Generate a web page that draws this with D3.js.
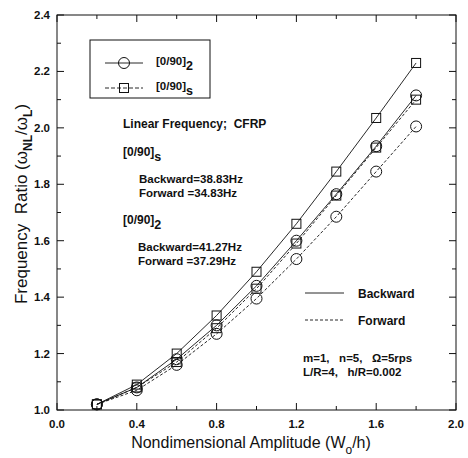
<!DOCTYPE html>
<html>
<head>
<meta charset="utf-8">
<script src="https://cdn.jsdelivr.net/npm/d3@7"></script>
<style>
  body { margin: 0; background: #fff; }
  text { font-family: "Liberation Sans", Arial, sans-serif; fill: #111; white-space: pre; }
</style>
</head>
<body>
<div id="chart"></div>
<script>
// amplitude values (Wo/h)
const amplitude = [0.2, 0.4, 0.6, 0.8, 1.0, 1.2, 1.4, 1.6, 1.8];

// frequency ratios
const crossPly2Backward = [1.02, 1.08, 1.18, 1.30, 1.44, 1.60, 1.765, 1.935, 2.115];
const crossPly2Forward  = [1.02, 1.07, 1.16, 1.27, 1.395, 1.535, 1.685, 1.845, 2.005];
const crossPlySBackward = [1.02, 1.09, 1.20, 1.335, 1.49, 1.66, 1.845, 2.035, 2.23];
const crossPlySForward  = [1.02, 1.08, 1.17, 1.29, 1.43, 1.59, 1.76, 1.93, 2.10];

const xTicks = [0.0, 0.4, 0.8, 1.2, 1.6, 2.0];
const yTicks = [1.0, 1.2, 1.4, 1.6, 1.8, 2.0, 2.2, 2.4];

const width = 468, height = 458;
const margin = { left: 57, right: 12, top: 15, bottom: 48 };

const svg = d3.select("#chart").append("svg")
    .attr("width", width)
    .attr("height", height);

const x = d3.scaleLinear().domain([0, 2]).range([margin.left, width - margin.right]);
const y = d3.scaleLinear().domain([1, 2.4]).range([height - margin.bottom, margin.top]);

const x0 = x.range()[0], x1 = x.range()[1];
const y0 = y.range()[0], y1 = y.range()[1];

// frame
svg.append("rect")
    .attr("x", x0).attr("y", y1)
    .attr("width", x1 - x0).attr("height", y0 - y1)
    .attr("fill", "none").attr("stroke", "#111").attr("stroke-width", 1);

// ticks (inside, on all four sides)
const g = svg.append("g").attr("stroke", "#111").attr("stroke-width", 1);
const xMinor = d3.range(0.2, 2.0, 0.4);
const yMinor = d3.range(1.1, 2.4, 0.2);
function xTick(v, len) {
    g.append("line").attr("x1", x(v)).attr("x2", x(v)).attr("y1", y0).attr("y2", y0 - len);
    g.append("line").attr("x1", x(v)).attr("x2", x(v)).attr("y1", y1).attr("y2", y1 + len);
}
function yTick(v, len) {
    g.append("line").attr("y1", y(v)).attr("y2", y(v)).attr("x1", x0).attr("x2", x0 + len);
    g.append("line").attr("y1", y(v)).attr("y2", y(v)).attr("x1", x1).attr("x2", x1 - len);
}
xTicks.forEach(v => xTick(v, 7));
xMinor.forEach(v => xTick(v, 4));
yTicks.forEach(v => yTick(v, 7));
yMinor.forEach(v => yTick(v, 4));

// tick labels
svg.selectAll(".xlab").data(xTicks).enter().append("text")
    .attr("x", d => x(d)).attr("y", y0 + 18)
    .attr("text-anchor", "middle")
    .style("font-size", "11.5px").style("font-weight", "bold")
    .text(d => d.toFixed(1));
svg.selectAll(".ylab").data(yTicks).enter().append("text")
    .attr("x", x0 - 7).attr("y", d => y(d) + 4)
    .attr("text-anchor", "end")
    .style("font-size", "11.5px").style("font-weight", "bold")
    .text(d => d.toFixed(1));

// axis titles
const xt = svg.append("text")
    .attr("x", 251).attr("y", 448)
    .attr("text-anchor", "middle")
    .style("font-size", "16px");
xt.append("tspan").text("Nondimensional Amplitude (W");
xt.append("tspan").attr("dy", 6).style("font-size", "12px").text("o");
xt.append("tspan").attr("dy", -6).text("/h)");

const yt = svg.append("text")
    .attr("transform", "translate(27,204) rotate(-90)")
    .attr("text-anchor", "middle")
    .style("font-size", "17px");
yt.append("tspan").text("Frequency  Ratio (\u03c9");
yt.append("tspan").attr("dy", 5).style("font-size", "12px").style("font-weight", "bold").text("NL");
yt.append("tspan").attr("dy", -5).text("/\u03c9");
yt.append("tspan").attr("dy", 5).style("font-size", "12px").style("font-weight", "bold").text("L");
yt.append("tspan").attr("dy", -5).text(")");

// series
const series = [
    { values: crossPlySBackward, marker: "square", dash: null },
    { values: crossPlySForward,  marker: "square", dash: "3,2" },
    { values: crossPly2Backward, marker: "circle", dash: null },
    { values: crossPly2Forward,  marker: "circle", dash: "3,2" }
];

const line = d3.line().x(d => x(d[0])).y(d => y(d[1]));

function drawMarker(sel, type, cx, cy) {
    if (type === "circle") {
        sel.append("circle").attr("cx", cx).attr("cy", cy).attr("r", 5.5)
            .attr("fill", "none").attr("stroke", "#111").attr("stroke-width", 1);
    } else {
        sel.append("rect").attr("x", cx - 4.5).attr("y", cy - 4.5)
            .attr("width", 9).attr("height", 9)
            .attr("fill", "none").attr("stroke", "#111").attr("stroke-width", 1);
    }
}

series.forEach(s => {
    const pts = amplitude.map((a, i) => [a, s.values[i]]);
    svg.append("path")
        .attr("d", line(pts))
        .attr("fill", "none")
        .attr("stroke", "#111")
        .attr("stroke-width", 0.9)
        .attr("stroke-dasharray", s.dash);
    const mg = svg.append("g");
    pts.forEach(p => drawMarker(mg, s.marker, x(p[0]), y(p[1])));
});

// legend box
svg.append("rect")
    .attr("x", 90).attr("y", 40).attr("width", 120).attr("height", 58)
    .attr("fill", "#fff").attr("stroke", "#111").attr("stroke-width", 1);

const legendItems = [
    { marker: "circle", dash: null, label: "[0/90]", sub: "2", yy: 63 },
    { marker: "square", dash: "4,2", label: "[0/90]", sub: "s", yy: 88 }
];
legendItems.forEach(l => {
    svg.append("line").attr("x1", 105).attr("x2", 143).attr("y1", l.yy).attr("y2", l.yy)
        .attr("stroke", "#111").attr("stroke-width", 0.9).attr("stroke-dasharray", l.dash);
    drawMarker(svg, l.marker, 124, l.yy);
    const t = svg.append("text").attr("x", 156).attr("y", l.yy + 2)
        .style("font-size", "11.5px").style("font-weight", "bold");
    t.append("tspan").text(l.label);
    t.append("tspan").attr("dy", 5).style("font-size", "12.5px").text(l.sub);
});

// annotations
function label(xx, yy, txt, size) {
    return svg.append("text").attr("x", xx).attr("y", yy)
        .style("font-size", (size || 11.5) + "px").style("font-weight", "bold").text(txt);
}
label(123, 128, "Linear Frequency;  CFRP", 12);
const s1 = svg.append("text").attr("x", 123).attr("y", 156).style("font-size", "12px").style("font-weight", "bold");
s1.append("tspan").text("[0/90]");
s1.append("tspan").attr("dy", 5).style("font-size", "12.5px").text("s");
label(139, 183, "Backward=38.83Hz");
label(139, 196.5, "Forward =34.83Hz");
const s2 = svg.append("text").attr("x", 123).attr("y", 224).style("font-size", "12px").style("font-weight", "bold");
s2.append("tspan").text("[0/90]");
s2.append("tspan").attr("dy", 5).style("font-size", "12.5px").text("2");
label(138, 251, "Backward=41.27Hz");
label(138, 264.5, "Forward =37.29Hz");

// backward / forward legend
svg.append("line").attr("x1", 305).attr("x2", 344).attr("y1", 293).attr("y2", 293)
    .attr("stroke", "#111").attr("stroke-width", 0.9);
svg.append("line").attr("x1", 305).attr("x2", 344).attr("y1", 320).attr("y2", 320)
    .attr("stroke", "#111").attr("stroke-width", 0.9).attr("stroke-dasharray", "3,2");
label(358, 298, "Backward", 12);
label(358, 325, "Forward", 12);

label(303, 362, "m=1,   n=5,   \u03a9=5rps");
label(303, 375.5, "L/R=4,   h/R=0.002");
</script>
</body>
</html>
